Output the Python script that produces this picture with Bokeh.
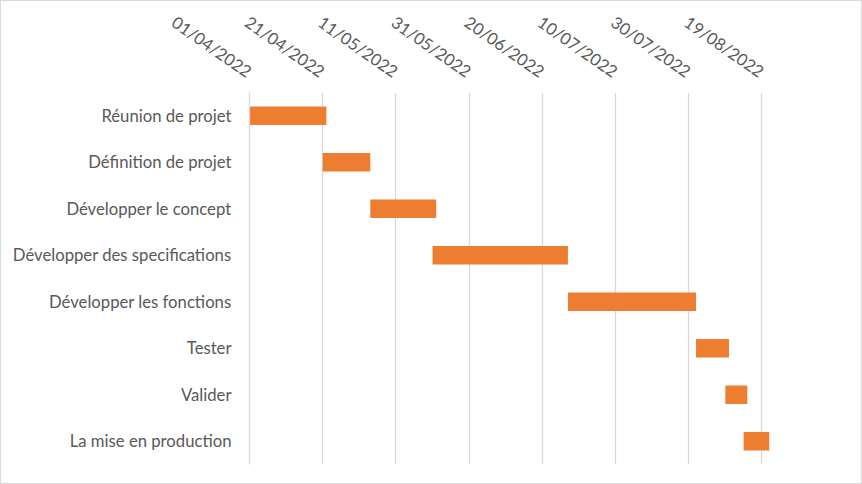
import math
import pandas as pd
from bokeh.plotting import figure
from bokeh.models import ColumnDataSource, FactorRange, FixedTicker, DatetimeTickFormatter, Range1d
from bokeh.embed import file_html
from bokeh.resources import INLINE

tasks = ["Réunion de projet", "Définition de projet", "Développer le concept",
         "Développer des specifications", "Développer les fonctions", "Tester",
         "Valider", "La mise en production"]
start_dates = ["2022-04-01", "2022-04-21", "2022-05-04", "2022-05-21",
               "2022-06-27", "2022-08-01", "2022-08-09", "2022-08-14"]
end_dates = ["2022-04-22", "2022-05-04", "2022-05-22", "2022-06-27",
             "2022-08-01", "2022-08-10", "2022-08-15", "2022-08-21"]
tick_dates = ["2022-04-01", "2022-04-21", "2022-05-11", "2022-05-31",
              "2022-06-20", "2022-07-10", "2022-07-30", "2022-08-19"]
axis_start = "2022-04-01"
axis_end = "2022-09-04"

FONT = "Lato"
GREY = "#595959"
GRID = "#d9d9d9"

src = ColumnDataSource(dict(task=tasks,
                            start=pd.to_datetime(start_dates),
                            end=pd.to_datetime(end_dates)))

p = figure(width=862, height=484, output_backend="svg", toolbar_location=None,
           x_axis_type="datetime", x_axis_location="above",
           y_range=FactorRange(factors=list(reversed(tasks))),
           x_range=Range1d(pd.Timestamp(axis_start), pd.Timestamp(axis_end)),
           min_border_left=248, min_border_top=90, min_border_bottom=21, min_border_right=43)

p.hbar(y="task", left="start", right="end", height=0.4, source=src,
       fill_color="#ED7D31", line_color=None)

ticks_ms = [pd.Timestamp(d).value / 1e6 for d in tick_dates]
ax = p.xaxis[0]
ax.ticker = FixedTicker(ticks=ticks_ms)
ax.formatter = DatetimeTickFormatter(days="%d/%m/%Y", months="%d/%m/%Y", years="%d/%m/%Y",
                                     hours="%d/%m/%Y", minutes="%d/%m/%Y", context=None)
ax.major_label_orientation = -35 * math.pi / 180
ax.axis_line_color = None
ax.major_tick_line_color = None
ax.minor_tick_line_color = None
ax.major_tick_out = 0
ax.major_tick_in = 0
ax.minor_tick_out = 0
ax.major_label_text_font = FONT
ax.major_label_text_font_size = "16.7px"
ax.major_label_text_color = GREY
ax.major_label_standoff = 19

ay = p.yaxis[0]
ay.axis_line_color = GRID
ay.axis_line_width = 1.3
ay.major_tick_line_color = None
ay.minor_tick_line_color = None
ay.major_tick_out = 0
ay.major_tick_in = 0
ay.major_label_text_font = FONT
ay.major_label_text_font_size = "16.7px"
ay.major_label_text_color = GREY
ay.major_label_standoff = 18

p.xgrid.grid_line_color = GRID
p.xgrid.grid_line_width = 1.3
p.ygrid.grid_line_color = None
p.outline_line_color = None
p.styles = {"border": "1px solid #d9d9d9", "box-sizing": "border-box"}

open("out.html", "w").write(file_html(p, INLINE))
